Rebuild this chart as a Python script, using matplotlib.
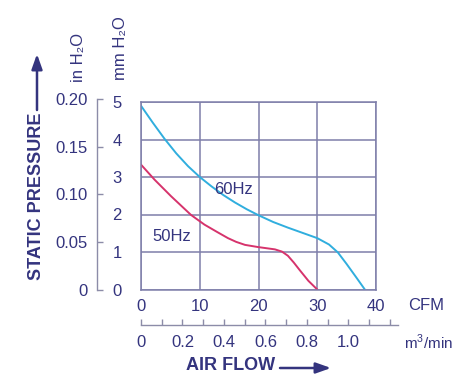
import matplotlib
matplotlib.use('Agg')
import matplotlib.pyplot as plt
from matplotlib.patches import FancyArrowPatch
from matplotlib.ticker import FixedLocator, FixedFormatter

plt.rcParams['font.family'] = ['Liberation Sans', 'DejaVu Sans']
plt.rcParams['mathtext.fontset'] = 'custom'
plt.rcParams['mathtext.rm'] = 'Liberation Sans'

# ---------------- data ----------------
cfm_60 = [0, 2, 4, 6, 8, 10, 12, 14, 16, 18, 20, 22.5, 25, 27.5, 30,
          32, 33.5, 35, 36.7, 38.1]
mm_60 = [4.90, 4.45, 4.02, 3.63, 3.29, 3.00, 2.75, 2.52, 2.32, 2.14, 1.98, 1.80, 1.65, 1.51, 1.37,
         1.20, 0.99, 0.68, 0.31, 0.0]

cfm_50 = [0, 2.3, 5.1, 8.5, 10.8, 13.0, 14.8, 16.2, 17.7, 20.0, 22.8, 24.0, 25.0, 26.0, 27.0,
          28.5, 30.0]
mm_50 = [3.33, 2.93, 2.49, 1.99, 1.73, 1.53, 1.37, 1.27, 1.19, 1.13, 1.07, 1.01, 0.90, 0.72, 0.52,
         0.23, 0.0]

cfm_ticks = [0, 10, 20, 30, 40]
mm_ticks = [0, 1, 2, 3, 4, 5]
in_ticks = [0, 0.05, 0.10, 0.15, 0.20]
in_labels = ['0', '0.05', '0.10', '0.15', '0.20']
m3_ticks = [0, 0.1, 0.2, 0.3, 0.4, 0.5, 0.6, 0.7, 0.8, 0.9, 1.0, 1.1, 1.2]
m3_labels = ['0', '', '0.2', '', '0.4', '', '0.6', '', '0.8', '', '1.0', '', '']
CFM_PER_M3 = 35.315
MM_PER_IN = 25.4

# ---------------- style ----------------
W, H = 455, 376
navy = '#34347e'
grid_c = '#7e7eaa'
axis_c = '#8c8ca8'
c60 = '#30aede'
c50 = '#d6336c'
fs = 12
fsb = 13

fig = plt.figure(figsize=(W / 100, H / 100), dpi=100)

# main axes (pixel box: x 141..376, y 102..289.5)
left, right, top, bottom = 141, 376, 102, 289.5
ax = fig.add_axes([left / W, 1 - bottom / H, (right - left) / W, (bottom - top) / H])
ax.set_xlim(0, 40)
ax.set_ylim(0, 5)
ax.set_xticks(cfm_ticks)
ax.set_yticks(mm_ticks)
ax.grid(True, color=grid_c, lw=1.1)
for s in ax.spines.values():
    s.set_color(grid_c)
    s.set_linewidth(1.1)
ax.tick_params(axis='both', length=0, labelsize=fs, labelcolor=navy)
ax.tick_params(axis='y', pad=14)
ax.tick_params(axis='x', pad=7)

ax.plot(cfm_60, mm_60, color=c60, lw=1.4, solid_capstyle='round', solid_joinstyle='round')
ax.plot(cfm_50, mm_50, color=c50, lw=1.4, solid_capstyle='round', solid_joinstyle='round')
ax.text(15.7, 2.67, '60Hz', color=navy, fontsize=fs, ha='center', va='center')
ax.text(5.2, 1.42, '50Hz', color=navy, fontsize=fs, ha='center', va='center')

# inch H2O axis
px_per_mm = (bottom - top) / 5
in_h = 0.20 * MM_PER_IN * px_per_mm
axi = fig.add_axes([97 / W, 1 - bottom / H, 0.0005, in_h / H])
axi.set_ylim(0, 0.20)
axi.patch.set_visible(False)
for k in ['top', 'right', 'bottom']:
    axi.spines[k].set_visible(False)
axi.spines['left'].set_color(axis_c)
axi.spines['left'].set_linewidth(1.0)
axi.set_xticks([])
axi.yaxis.set_major_locator(FixedLocator(in_ticks))
axi.yaxis.set_major_formatter(FixedFormatter(in_labels))
axi.tick_params(axis='y', direction='in', length=4, color=axis_c, width=1.0,
                labelsize=fs, labelcolor=navy, pad=6.5)

# m3/min axis
px_per_cfm = (right - left) / 40
m_right = 398
axm = fig.add_axes([left / W, 1 - 325 / H, (m_right - left) / W, 0.0005])
axm.set_xlim(0, (m_right - left) / px_per_cfm)
axm.patch.set_visible(False)
for k in ['top', 'right', 'left']:
    axm.spines[k].set_visible(False)
axm.spines['bottom'].set_color(axis_c)
axm.spines['bottom'].set_linewidth(1.0)
axm.set_yticks([])
axm.xaxis.set_major_locator(FixedLocator([m * CFM_PER_M3 for m in m3_ticks]))
axm.xaxis.set_major_formatter(FixedFormatter(m3_labels))
axm.tick_params(axis='x', direction='in', length=4, color=axis_c, width=1.0,
                labelsize=fs, labelcolor=navy, pad=7)

# unit labels
fig.text(408 / W, 1 - 306 / H, 'CFM', color=navy, fontsize=fs, ha='left', va='center')
fig.text(404 / W, 1 - 342 / H, 'm$^3$/min', color=navy, fontsize=11, ha='left', va='center')
fig.text(79 / W, 1 - 57 / H, 'in H₂O', color=navy, fontsize=fs, rotation=90,
         ha='center', va='center')
fig.text(121 / W, 1 - 48 / H, 'mm H₂O', color=navy, fontsize=fs, rotation=90,
         ha='center', va='center')

# axis titles with arrows
fig.text(37 / W, 1 - 196 / H, 'STATIC PRESSURE', color=navy, fontsize=fsb, fontweight='bold',
         rotation=90, ha='center', va='center')
fig.add_artist(FancyArrowPatch(
    (37 / W, 1 - 110 / H), (37 / W, 1 - 54 / H), transform=fig.transFigure,
    arrowstyle='-|>,head_length=9,head_width=3.2', color=navy, lw=1.8,
    shrinkA=0, shrinkB=0))
fig.text(231 / W, 1 - 366 / H, 'AIR FLOW', color=navy, fontsize=fsb, fontweight='bold',
         ha='center', va='center')
fig.add_artist(FancyArrowPatch(
    (280 / W, 1 - 368 / H), (331 / W, 1 - 368 / H), transform=fig.transFigure,
    arrowstyle='-|>,head_length=9,head_width=3.2', color=navy, lw=1.8,
    shrinkA=0, shrinkB=0))

fig.savefig('out.png', dpi=100)
